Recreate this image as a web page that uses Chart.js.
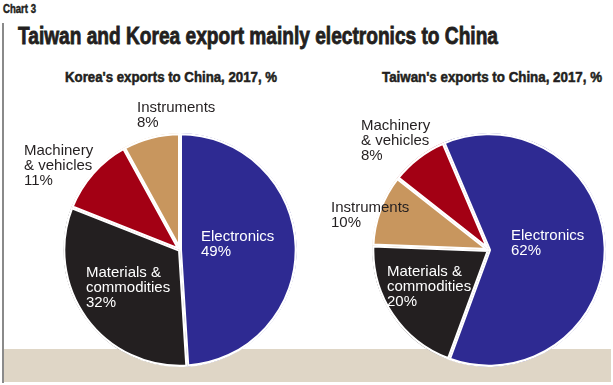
<!DOCTYPE html>
<html>
<head>
<meta charset="utf-8">
<script src="https://cdn.jsdelivr.net/npm/chart.js@4.4.0/dist/chart.umd.min.js"></script>
<style>
  html, body { margin: 0; padding: 0; background: #fff; }
  body { width: 613px; height: 385px; position: relative; overflow: hidden; font-family: "Liberation Sans", Arial, sans-serif; color: #231F20; }
  .txt { position: absolute; white-space: nowrap; line-height: 1; font-weight: bold; transform-origin: 0 0; font-family: "Liberation Sans Narrow", "Liberation Sans", Arial, sans-serif; -webkit-text-stroke: 0.5px #231F20; }
  #rule { position: absolute; left: 2px; top: 23px; width: 1.5px; height: 360px; background: #8a8a8a; }
  #band { position: absolute; left: 4px; top: 349px; width: 607px; height: 33px; background: #DFD6C6; }
  canvas { position: absolute; }
</style>
</head>
<body>
<div id="rule"></div>
<div id="band"></div>
<div class="txt" style="left:3px; top:2px; font-size:13px" data-w="33">Chart 3</div>
<div class="txt" style="left:18px; top:25px; font-size:23px; -webkit-text-stroke: 0.8px #231F20" data-w="480">Taiwan and Korea export mainly electronics to China</div>
<div class="txt" style="left:65px; top:70px; font-size:14px" data-w="212">Korea's exports to China, 2017, %</div>
<div class="txt" style="left:382px; top:70px; font-size:14px" data-w="220">Taiwan's exports to China, 2017, %</div>

<div style="position:absolute; left:0; top:90px; width:360px; height:320px"><canvas id="korea"></canvas></div>
<div style="position:absolute; left:309px; top:90px; width:360px; height:320px"><canvas id="taiwan"></canvas></div>

<script>
const blue = '#2E2A92'
const black = '#231F20'
const red = '#A30014'
const tan = '#C8965E'

// Korea
const koreaLabels = ['Electronics', 'Materials & commodities', 'Machinery & vehicles', 'Instruments']
const koreaValues = [49, 32, 11, 8]
const koreaColors = [blue, black, red, tan]

// Taiwan
const taiwanLabels = ['Electronics', 'Materials & commodities', 'Instruments', 'Machinery & vehicles']
const taiwanValues = [62, 20, 10, 8]
const taiwanColors = [blue, black, tan, red]

// how each category label is broken into lines
const labelLines = {
  'Electronics': ['Electronics'],
  'Materials & commodities': ['Materials &', 'commodities'],
  'Machinery & vehicles': ['Machinery', '& vehicles'],
  'Instruments': ['Instruments']
}

// label placement, offset of first baseline from pie centre
const koreaLabelPos = [[21, -9, '#fff'], [-94, 27, '#fff'], [-156, -95, black], [-43, -138, black]]
const taiwanLabelPos = [[22, -10, '#fff'], [-102, 26, '#fff'], [-158, -38, black], [-128, -120, black]]

// squeeze the heading texts to the condensed width of the original
document.querySelectorAll('.txt').forEach(function (el) {
  const w = el.getBoundingClientRect().width
  el.style.transform = 'scaleX(' + (el.dataset.w / w) + ')'
})

const sliceLabels = {
  id: 'sliceLabels',
  afterDatasetsDraw(chart, args, opts) {
    const ctx = chart.ctx
    const meta = chart.getDatasetMeta(0)
    const values = chart.data.datasets[0].data
    ctx.save()
    ctx.font = '15px "Liberation Sans", Arial, sans-serif'
    ctx.textAlign = 'left'
    ctx.textBaseline = 'alphabetic'
    meta.data.forEach(function (arc, i) {
      const pos = opts.pos[i]
      const lines = labelLines[chart.data.labels[i]].concat([values[i] + '%'])
      ctx.fillStyle = pos[2]
      lines.forEach(function (line, j) {
        ctx.fillText(line, arc.x + pos[0], arc.y + pos[1] + j * 15)
      })
    })
    ctx.restore()
  }
}

function pieConfig(canvasID, labels, values, colors, rotation, labelPos) {
  new Chart(document.getElementById(canvasID), {
    type: 'pie',
    data: {
      labels: labels,
      datasets: [{
        data: values,
        backgroundColor: colors,
        borderColor: '#fff',
        borderWidth: 2,
        borderAlign: 'inner'
      }]
    },
    options: {
      responsive: true,
      maintainAspectRatio: false,
      animation: false,
      rotation: rotation,
      radius: 117,
      layout: { padding: 0 },
      events: [],
      plugins: {
        legend: { display: false },
        tooltip: { enabled: false },
        sliceLabels: { pos: labelPos }
      }
    },
    plugins: [sliceLabels]
  })
}

pieConfig('korea', koreaLabels, koreaValues, koreaColors, 0, koreaLabelPos)
pieConfig('taiwan', taiwanLabels, taiwanValues, taiwanColors, -23, taiwanLabelPos)
</script>
</body>
</html>
